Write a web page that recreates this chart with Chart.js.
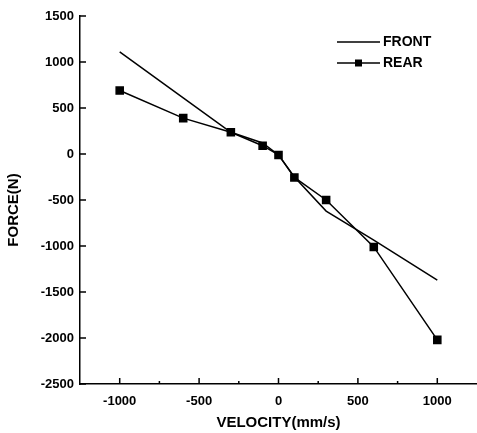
<!DOCTYPE html>
<html>
<head>
<meta charset="utf-8">
<script src="https://cdn.jsdelivr.net/npm/chart.js@4/dist/chart.umd.min.js"></script>
<style>
  html, body { margin: 0; padding: 0; background: #fff; overflow: hidden; }
  canvas { display: block; }
</style>
</head>
<body>
<canvas id="forceChart" width="477" height="433"></canvas>
<script>
// velocity (mm/s) and damper force (N)
const velocity = [-1000, -600, -300, -100, 0, 100, 300, 600, 1000];
const frontForce = [1110, 610, 236, 120, -10, -250, -620, -935, -1370];
const rearForce = [690, 390, 236, 90, -10, -255, -500, -1010, -2020];

const xTicks = [-1000, -500, 0, 500, 1000];
const xMinorTicks = [-750, -250, 250, 750];
const yTicks = [-2500, -2000, -1500, -1000, -500, 0, 500, 1000, 1500];

const FONT = "'Liberation Sans', Arial, sans-serif";

// ticks point inward, like the original
const inwardTicks = {
    id: "inwardTicks",
    afterDraw(chart) {
        const { ctx, chartArea, scales } = chart;
        ctx.save();
        ctx.strokeStyle = "#000";
        ctx.lineWidth = 1.5;
        ctx.beginPath();
        xTicks.forEach((v) => {
            const px = scales.x.getPixelForValue(v);
            ctx.moveTo(px, chartArea.bottom);
            ctx.lineTo(px, chartArea.bottom - 6);
        });
        xMinorTicks.forEach((v) => {
            const px = scales.x.getPixelForValue(v);
            ctx.moveTo(px, chartArea.bottom);
            ctx.lineTo(px, chartArea.bottom - 3);
        });
        yTicks.forEach((v) => {
            const py = scales.y.getPixelForValue(v);
            ctx.moveTo(chartArea.left, py);
            ctx.lineTo(chartArea.left + 6, py);
        });
        ctx.stroke();

        // y title, sits a bit below axis centre in the original
        ctx.fillStyle = "#000";
        ctx.font = "bold 15px " + FONT;
        ctx.textAlign = "center";
        ctx.textBaseline = "middle";
        ctx.translate(14, 210);
        ctx.rotate(-Math.PI / 2);
        ctx.fillText("FORCE(N)", 0, 0);
        ctx.restore();
    },
};

// legend: line sample (with square marker for REAR) and label
const boxLegend = {
    id: "boxLegend",
    afterDraw(chart) {
        const { ctx } = chart;
        ctx.save();
        ctx.font = "bold 14px " + FONT;
        ctx.textBaseline = "middle";
        ctx.textAlign = "left";
        chart.data.datasets.forEach((ds, i) => {
            const y = 42 + i * 21;
            ctx.strokeStyle = ds.borderColor;
            ctx.lineWidth = 1.5;
            ctx.beginPath();
            ctx.moveTo(337, y);
            ctx.lineTo(380, y);
            ctx.stroke();
            if (ds.pointRadius > 0) {
                ctx.fillStyle = ds.backgroundColor;
                ctx.fillRect(358.5 - 3.5, y - 3.5, 7, 7);
            }
            ctx.fillStyle = "#000";
            ctx.fillText(ds.label, 383, y + 0.5);
        });
        ctx.restore();
    },
};

new Chart(document.getElementById("forceChart"), {
    type: "line",
    data: {
        labels: velocity,
        datasets: [
            {
                label: "FRONT",
                data: velocity.map((v, i) => ({ x: v, y: frontForce[i] })),
                borderColor: "#000",
                backgroundColor: "#000",
                borderWidth: 1.5,
                pointRadius: 0,
                tension: 0,
            },
            {
                label: "REAR",
                data: velocity.map((v, i) => ({ x: v, y: rearForce[i] })),
                borderColor: "#000",
                backgroundColor: "#000",
                borderWidth: 1.5,
                pointStyle: "rect",
                pointRadius: 5,
                pointHoverRadius: 5,
                tension: 0,
            },
        ],
    },
    options: {
        responsive: false,
        animation: false,
        devicePixelRatio: 1,
        layout: { autoPadding: false, padding: { top: 16, right: 0, left: 0, bottom: 0 } },
        plugins: {
            legend: { display: false },
            tooltip: { enabled: false },
        },
        scales: {
            x: {
                type: "linear",
                min: -1250,
                max: 1250,
                afterBuildTicks: (scale) => {
                    scale.ticks = xTicks.map((v) => ({ value: v }));
                },
                afterFit: (scale) => {
                    scale.height = 49;
                    scale.paddingLeft = 0;
                    scale.paddingRight = 0;
                },
                grid: { display: false, drawTicks: false },
                border: { display: true, color: "#000", width: 1.5 },
                ticks: {
                    color: "#000",
                    padding: 10,
                    maxRotation: 0,
                    font: { family: FONT, size: 13, weight: "bold" },
                    callback: (v) => String(v),
                },
                title: {
                    display: true,
                    text: "VELOCITY(mm/s)",
                    color: "#000",
                    padding: { top: 0, bottom: 1 },
                    font: { family: FONT, size: 15, weight: "bold" },
                },
            },
            y: {
                type: "linear",
                min: -2500,
                max: 1500,
                afterBuildTicks: (scale) => {
                    scale.ticks = yTicks.map((v) => ({ value: v }));
                },
                afterFit: (scale) => {
                    scale.width = 80;
                    scale.paddingTop = 0;
                    scale.paddingBottom = 0;
                },
                grid: { display: false, drawTicks: false },
                border: { display: true, color: "#000", width: 1.5 },
                ticks: {
                    color: "#000",
                    padding: 6,
                    font: { family: FONT, size: 13, weight: "bold" },
                    callback: (v) => String(v),
                },
            },
        },
    },
    plugins: [inwardTicks, boxLegend],
});
</script>
</body>
</html>
